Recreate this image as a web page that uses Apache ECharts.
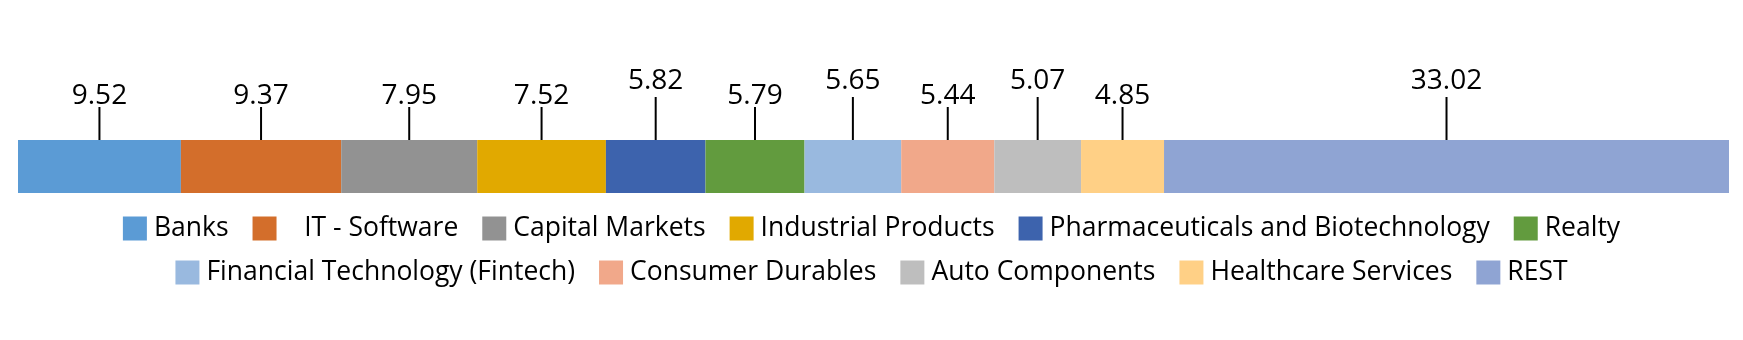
<!DOCTYPE html>
<html>
<head>
<meta charset="utf-8">
<style>
  html, body { margin: 0; padding: 0; background: #ffffff; }
  #chart { width: 1743px; height: 340px; }
</style>
<script src="https://cdn.jsdelivr.net/npm/echarts@6/dist/echarts.min.js"></script>
</head>
<body>
<div id="chart"></div>
<script>
// Sector allocation (% of portfolio)
const sectors = [
  'Banks', 'IT - Software', 'Capital Markets', 'Industrial Products',
  'Pharmaceuticals and Biotechnology', 'Realty', 'Financial Technology (Fintech)',
  'Consumer Durables', 'Auto Components', 'Healthcare Services', 'REST'
];
const weights = [9.52, 9.37, 7.95, 7.52, 5.82, 5.79, 5.65, 5.44, 5.07, 4.85, 33.02];
const sectorColors = [
  '#5B9BD5', '#D36E2B', '#929292', '#E1A900', '#3D63AD', '#629B3E',
  '#99B9DF', '#F1A88A', '#BEBEBE', '#FFD086', '#8FA4D3'
];
const rowName = ['Allocation'];

const legendRow1 = sectors.slice(0, 6);
const legendRow2 = sectors.slice(6);

const FONT = '"Open Sans", "Noto Sans", sans-serif';

// One stacked bar per sector
const barSeries = sectors.map((name, i) => ({
  name: name,
  type: 'bar',
  stack: 'total',
  barWidth: '100%',
  itemStyle: { color: sectorColors[i] },
  emphasis: { disabled: true },
  data: [weights[i]]
}));

// Value labels with leader lines, placed above the middle of each segment
let running = 0;
const labelData = weights.map((w, i) => {
  const mid = running + w / 2;
  running += w;
  return [mid, rowName[0], w, i];
});

const labelSeries = {
  type: 'custom',
  name: 'labels',
  z: 10,
  silent: true,
  clip: false,
  data: labelData,
  renderItem: function (params, api) {
    const pt = api.coord([api.value(0), 0]);
    const band = api.size([0, 1])[1];
    const barTop = pt[1] - band / 2;
    const idx = api.value(3);
    // from the fifth segment on, every other label sits one step higher
    const raised = idx >= 4 && idx % 2 === 0;
    const lineLen = raised ? 43 : 33;
    const textY = raised ? barTop - 59 : barTop - 44;
    return {
      type: 'group',
      children: [
        {
          type: 'line',
          shape: { x1: pt[0], y1: barTop, x2: pt[0], y2: barTop - lineLen },
          style: { stroke: '#000000', lineWidth: 2 }
        },
        {
          type: 'text',
          style: {
            x: pt[0],
            y: textY,
            text: api.value(2).toFixed(2),
            fill: '#000000',
            font: '28px ' + FONT,
            textAlign: 'center',
            textVerticalAlign: 'middle'
          }
        }
      ]
    };
  }
};

const legendCommon = {
  left: 'center',
  orient: 'horizontal',
  icon: 'rect',
  itemWidth: 24,
  itemHeight: 24,
  itemGap: 24,
  selectedMode: false,
  textStyle: { fontFamily: FONT, fontSize: 26.5, color: '#000000', padding: [0, 0, 0, 2] },
  formatter: function (name) {
    return name === 'IT - Software' ? '   ' + name : name;
  }
};

const option = {
  animation: false,
  backgroundColor: '#ffffff',
  grid: { left: 18, right: 14, top: 140, height: 53, containLabel: false },
  xAxis: { type: 'value', min: 0, max: 100, show: false },
  yAxis: { type: 'category', data: rowName, show: false },
  legend: [
    Object.assign({}, legendCommon, { top: 210, data: legendRow1 }),
    Object.assign({}, legendCommon, { top: 254, data: legendRow2 })
  ],
  series: barSeries.concat([labelSeries])
};

const chart = echarts.init(document.getElementById('chart'), null, { renderer: 'canvas' });
chart.setOption(option);
</script>
</body>
</html>
